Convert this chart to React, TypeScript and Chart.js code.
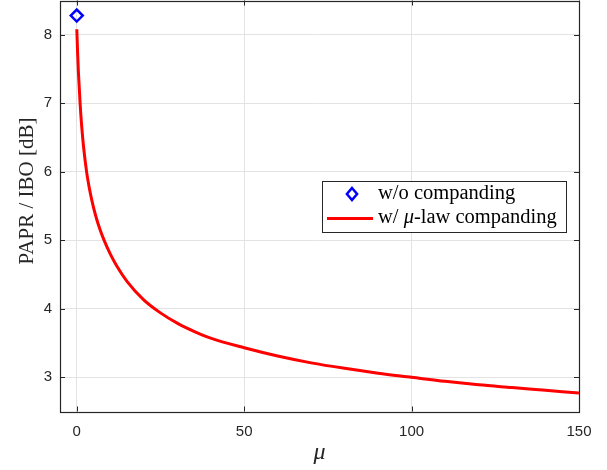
import React, { useEffect, useRef } from "react";
import { Chart, registerables } from "chart.js";

Chart.register(...registerables);

const muValues = [0.02, 0.25, 0.5, 1, 1.5, 2, 3, 4, 5, 6, 7, 8, 10, 12, 15, 20, 25, 30, 35, 40, 50, 60, 70, 80, 90, 100, 110, 120, 130, 140, 150];
const paprCompanded = [8.08, 7.75, 7.45, 7.0, 6.65, 6.38, 5.98, 5.7, 5.48, 5.3, 5.15, 5.02, 4.8, 4.62, 4.4, 4.13, 3.94, 3.79, 3.67, 3.57, 3.43, 3.31, 3.21, 3.13, 3.06, 3.0, 2.94, 2.89, 2.85, 2.81, 2.77];
const muNoCompanding = [0];
const paprNoCompanding = [8.28];
const xTicks = [0, 50, 100, 150];
const yTicks = [3, 4, 5, 6, 7, 8];
const legendLabels = ["w/o companding", "w/ μ-law companding"];
const xTitle = "μ";
const yTitle = "PAPR / IBO [dB]";

const AXIS_COLOR = "#262626";
const SERIF = "'Liberation Serif', 'Times New Roman', serif";
const SANS = "'Liberation Sans', Arial, sans-serif";
const SHIFT = 8; // canvas is shifted up by this many px in the page

const framePlugin = {
  id: "frame",
  beforeDatasetsDraw(chart: any) {
    const { ctx, chartArea: a, scales } = chart;
    ctx.save();
    ctx.strokeStyle = AXIS_COLOR;
    ctx.lineWidth = 1;
    const tl = 5;
    ctx.beginPath();
    for (const v of xTicks) {
      const px = Math.round(scales.x.getPixelForValue(v)) + 0.5;
      ctx.moveTo(px, a.bottom);
      ctx.lineTo(px, a.bottom - tl);
      ctx.moveTo(px, a.top);
      ctx.lineTo(px, a.top + tl);
    }
    for (const v of yTicks) {
      const py = Math.round(scales.y.getPixelForValue(v)) + 0.5;
      ctx.moveTo(a.left, py);
      ctx.lineTo(a.left + tl, py);
      ctx.moveTo(a.right, py);
      ctx.lineTo(a.right - tl, py);
    }
    ctx.stroke();
    ctx.lineWidth = 1.2;
    ctx.strokeRect(Math.round(a.left) + 0.5, Math.round(a.top) + 0.5, Math.round(a.right - a.left), Math.round(a.bottom - a.top));
    ctx.restore();
  },
  afterDraw(chart: any) {
    const { ctx, chartArea: a } = chart;
    ctx.save();
    ctx.translate(0, SHIFT);
    // axis titles
    ctx.fillStyle = AXIS_COLOR;
    ctx.textAlign = "center";
    ctx.textBaseline = "middle";
    ctx.font = `italic 24px ${SERIF}`;
    ctx.fillText(xTitle, (a.left + a.right) / 2, 453);
    ctx.save();
    ctx.translate(27, 191);
    ctx.rotate(-Math.PI / 2);
    ctx.font = `21px ${SERIF}`;
    ctx.fillText(yTitle, 0, 0);
    ctx.restore();

    // legend
    const bx = 322, by = 181, bw = 244, bh = 51;
    ctx.fillStyle = "#ffffff";
    ctx.fillRect(bx, by, bw, bh);
    ctx.strokeStyle = "#262626";
    ctx.lineWidth = 1;
    ctx.strokeRect(bx + 0.5, by + 0.5, bw, bh);

    // diamond
    const dx = 352, dy = 194, r = 6;
    ctx.strokeStyle = "#0000ff";
    ctx.lineWidth = 2.5;
    ctx.beginPath();
    ctx.moveTo(dx, dy - r);
    ctx.lineTo(dx + r * 0.85, dy);
    ctx.lineTo(dx, dy + r);
    ctx.lineTo(dx - r * 0.85, dy);
    ctx.closePath();
    ctx.stroke();

    // red line
    ctx.strokeStyle = "#ff0000";
    ctx.lineWidth = 3;
    ctx.beginPath();
    ctx.moveTo(327, 218.5);
    ctx.lineTo(373, 218.5);
    ctx.stroke();

    ctx.fillStyle = "#000000";
    ctx.textAlign = "left";
    ctx.textBaseline = "middle";
    ctx.font = `20.5px ${SERIF}`;
    ctx.fillText(legendLabels[0], 378, 194);
    const l2 = legendLabels[1];
    const idx = l2.indexOf("μ");
    const pre = l2.slice(0, idx);
    const post = l2.slice(idx + 1);
    let x = 378;
    ctx.fillText(pre, x, 218);
    x += ctx.measureText(pre).width;
    ctx.font = `italic 20.5px ${SERIF}`;
    ctx.fillText("μ", x, 218);
    x += ctx.measureText("μ").width;
    ctx.font = `20.5px ${SERIF}`;
    ctx.fillText(post, x, 218);
    ctx.restore();
  },
};

export default function App() {
  const ref = useRef<HTMLCanvasElement>(null);
  useEffect(() => {
    if (!ref.current) return;
    const chart = new Chart(ref.current, {
      type: "scatter",
      data: {
        datasets: [
          {
            label: legendLabels[1],
            data: muValues.map((m, i) => ({ x: m, y: paprCompanded[i] })),
            showLine: true,
            borderColor: "#ff0000",
            borderWidth: 3,
            pointRadius: 0,
            cubicInterpolationMode: "monotone",
            order: 2,
          },
          {
            label: legendLabels[0],
            data: muNoCompanding.map((m, i) => ({ x: m, y: paprNoCompanding[i] })),
            showLine: false,
            pointStyle: "rectRot",
            pointRadius: 6,
            borderColor: "#0000ff",
            backgroundColor: "rgba(0,0,0,0)",
            borderWidth: 2.5,
            order: 1,
          },
        ],
      },
      options: {
        responsive: false,
        animation: false,
        layout: { padding: { top: 2, right: 28, left: 0, bottom: 0 } },
        plugins: { legend: { display: false }, tooltip: { enabled: false } },
        scales: {
          x: {
            type: "linear",
            min: -5,
            max: 150,
            afterBuildTicks: (s: any) => {
              s.ticks = xTicks.map((v) => ({ value: v }));
            },
            afterFit: (s: any) => {
              s.height = 58.5;
              s.paddingLeft = 0;
              s.paddingRight = 0;
              s.paddingTop = 0;
              s.paddingBottom = 0;
            },
            grid: { color: "#e3e3e3", drawTicks: false },
            border: { display: false },
            ticks: {
              color: AXIS_COLOR,
              font: { family: SANS, size: 15 },
              padding: 11,
            },
          },
          y: {
            type: "linear",
            min: 2.5,
            max: 8.5,
            afterBuildTicks: (s: any) => {
              s.ticks = yTicks.map((v) => ({ value: v }));
            },
            afterFit: (s: any) => {
              s.width = 60;
              s.paddingLeft = 0;
              s.paddingRight = 0;
              s.paddingTop = 0;
              s.paddingBottom = 0;
            },
            grid: { color: "#e3e3e3", drawTicks: false },
            border: { display: false },
            ticks: {
              color: AXIS_COLOR,
              font: { family: SANS, size: 15 },
              padding: 8,
            },
          },
        },
      },
      plugins: [framePlugin],
    });
    return () => chart.destroy();
  }, []);
  return (
    <div style={{ position: "fixed", left: 0, top: 0, width: 607, height: 470, background: "#fff", overflow: "hidden" }}>
      <canvas
        ref={ref}
        width={607}
        height={470 + SHIFT}
        style={{ display: "block", position: "absolute", left: 0, top: -SHIFT }}
      />
    </div>
  );
}
